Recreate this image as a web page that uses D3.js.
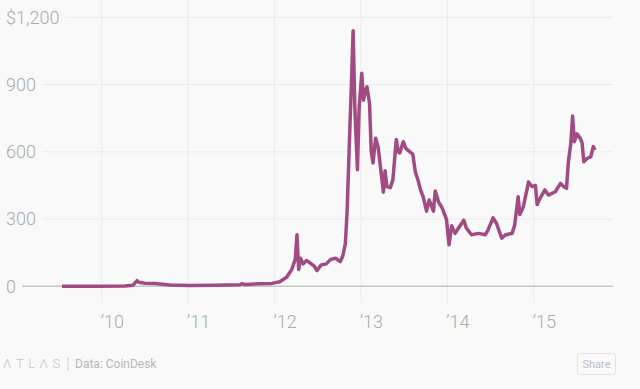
<!DOCTYPE html>
<html>
<head>
<meta charset="utf-8">
<script src="https://cdn.jsdelivr.net/npm/d3@7/dist/d3.min.js"></script>
<style>
	body { margin: 0; background: #f9f9f9; }
	svg { display: block; font-family: Roboto, "Open Sans", sans-serif; }
</style>
</head>
<body>
<div class="data_display"></div>
<script>
//Bitcoin price, x in (axis) years, y in dollars
var years = [2009.54, 2009.98, 2010.27, 2010.36, 2010.41, 2010.43, 2010.50, 2010.62, 2010.79, 2011.02,
	2011.31, 2011.60, 2011.62, 2011.66, 2011.83, 2011.97, 2012.06, 2012.14, 2012.20, 2012.24,
	2012.26, 2012.28, 2012.30, 2012.33, 2012.37, 2012.41, 2012.46, 2012.49, 2012.54, 2012.60,
	2012.65, 2012.71, 2012.76, 2012.79, 2012.82, 2012.84, 2012.87, 2012.89, 2012.91, 2012.93,
	2012.94, 2012.96, 2012.98, 2013.01, 2013.03, 2013.05, 2013.07, 2013.10, 2013.12, 2013.14, 2013.17,
	2013.20, 2013.23, 2013.26, 2013.28, 2013.30, 2013.34, 2013.37, 2013.41, 2013.43, 2013.45, 2013.49,
	2013.52, 2013.55, 2013.60, 2013.63, 2013.66, 2013.69, 2013.72, 2013.76, 2013.79, 2013.84, 2013.86, 2013.90,
	2013.94, 2013.99, 2014.02, 2014.05, 2014.09, 2014.13, 2014.19, 2014.22, 2014.28, 2014.36,
	2014.44, 2014.47, 2014.53, 2014.57, 2014.61, 2014.63, 2014.67, 2014.75, 2014.78, 2014.82,
	2014.84, 2014.88, 2014.94, 2014.98, 2015.02, 2015.04, 2015.07, 2015.13, 2015.17, 2015.25,
	2015.31, 2015.35, 2015.38, 2015.40, 2015.43, 2015.45, 2015.47, 2015.50, 2015.54, 2015.56,
	2015.58, 2015.62, 2015.66, 2015.69, 2015.71];
var prices = [0.1, 0.3, 1, 5, 25, 18, 14, 12, 6, 4,
	5, 7, 11, 8, 11, 13, 20, 40, 75, 120,
	230, 75, 125, 100, 115, 105, 90, 70, 95, 100,
	120, 125, 110, 135, 190, 330, 680, 900, 1140, 800,
	700, 520, 800, 950, 830, 870, 890, 815, 600, 550, 660,
	620, 520, 420, 515, 445, 440, 475, 655, 600, 595, 645,
	615, 605, 590, 510, 475, 430, 400, 335, 385, 335, 425, 375,
	350, 300, 185, 270, 236, 260, 295, 260, 230, 236,
	230, 250, 305, 280, 236, 215, 229, 236, 273, 400,
	320, 355, 465, 445, 450, 365, 390, 430, 407, 422,
	459, 444, 437, 550, 640, 760, 645, 680, 660, 640,
	556, 571, 578, 623, 608];
var year_ticks = [2010, 2011, 2012, 2013, 2014, 2015];
var year_labels = ["\u201910", "\u201911", "\u201912", "\u201913", "\u201914", "\u201915"];
var price_ticks = [0, 300, 600, 900, 1200];
var price_labels = ["0", "300", "600", "900", "$1,200"];

var lineColor = "#a04b82";
var w = 640;
var h = 389;

var display = d3.select("body").select(".data_display");
var svg = display.append("svg")
						.attr("width", w)
						.attr("height", h);

var x = d3.scaleLinear().domain([2010, 2015]).range([101.7, 533.7]);
var y = d3.scaleLinear().domain([0, 1200]).range([286.3, 17.3]);
var rightEdge = 613;

//vertical year gridlines
svg.selectAll(".vgrid")
		.data(year_ticks)
		.enter()
		.append("line")
		.attr("x1", function(d){ return x(d); })
		.attr("x2", function(d){ return x(d); })
		.attr("y1", 0)
		.attr("y2", 303)
		.attr("stroke", "#ebebeb")
		.attr("stroke-width", 1);

//y labels first, so the gridlines can start after them
var ylab = svg.selectAll(".ylab")
		.data(price_ticks)
		.enter()
		.append("text")
		.attr("x", 6)
		.attr("y", function(d){ return y(d); })
		.attr("dy", "0.35em")
		.attr("fill", "#ababab")
		.style("font-size", "18px")
		.style("font-weight", 300)
		.text(function(d, i){ return price_labels[i]; });

ylab.each(function(d){
	var end = 6 + this.getComputedTextLength() + 6;
	svg.append("line")
		.attr("x1", end)
		.attr("x2", rightEdge)
		.attr("y1", y(d))
		.attr("y2", y(d))
		.attr("stroke", d == 0 ? "#c6c6c6" : "#ebebeb")
		.attr("stroke-width", d == 0 ? 1.6 : 1);
});

//x labels
svg.selectAll(".xlab")
		.data(year_ticks)
		.enter()
		.append("text")
		.attr("x", function(d){ return x(d) - 1; })
		.attr("y", 328)
		.attr("fill", "#ababab")
		.style("font-size", "18px")
		.style("font-weight", 300)
		.text(function(d, i){ return year_labels[i]; });

//price line
var line = d3.line()
		.x(function(d){ return x(d); })
		.y(function(d, i){ return y(prices[i]); });

svg.append("path")
		.attr("d", line(years))
		.attr("fill", "none")
		.attr("stroke", lineColor)
		.attr("stroke-width", 3.5)
		.attr("stroke-linejoin", "round");

//footer
svg.append("text")
		.attr("x", 3)
		.attr("y", 368)
		.attr("fill", "#c4c4c4")
		.style("font-size", "13px")
		.style("font-weight", 300)
		.style("letter-spacing", "4.5px")
		.text("\u039BTL\u039BS");

svg.append("line")
		.attr("x1", 68).attr("x2", 68)
		.attr("y1", 357).attr("y2", 371)
		.attr("stroke", "#d4d4d4");

svg.append("text")
		.attr("x", 75)
		.attr("y", 368)
		.attr("fill", "#b8b8b8")
		.style("font-size", "12px")
		.text("Data: CoinDesk");

svg.append("rect")
		.attr("x", 577.5)
		.attr("y", 353.5)
		.attr("width", 38)
		.attr("height", 21)
		.attr("rx", 2)
		.attr("fill", "#fafafa")
		.attr("stroke", "#e2e2e2");

svg.append("text")
		.attr("x", 596.5)
		.attr("y", 368)
		.attr("text-anchor", "middle")
		.attr("fill", "#bdbdbd")
		.style("font-size", "11px")
		.text("Share");
</script>
</body>
</html>
